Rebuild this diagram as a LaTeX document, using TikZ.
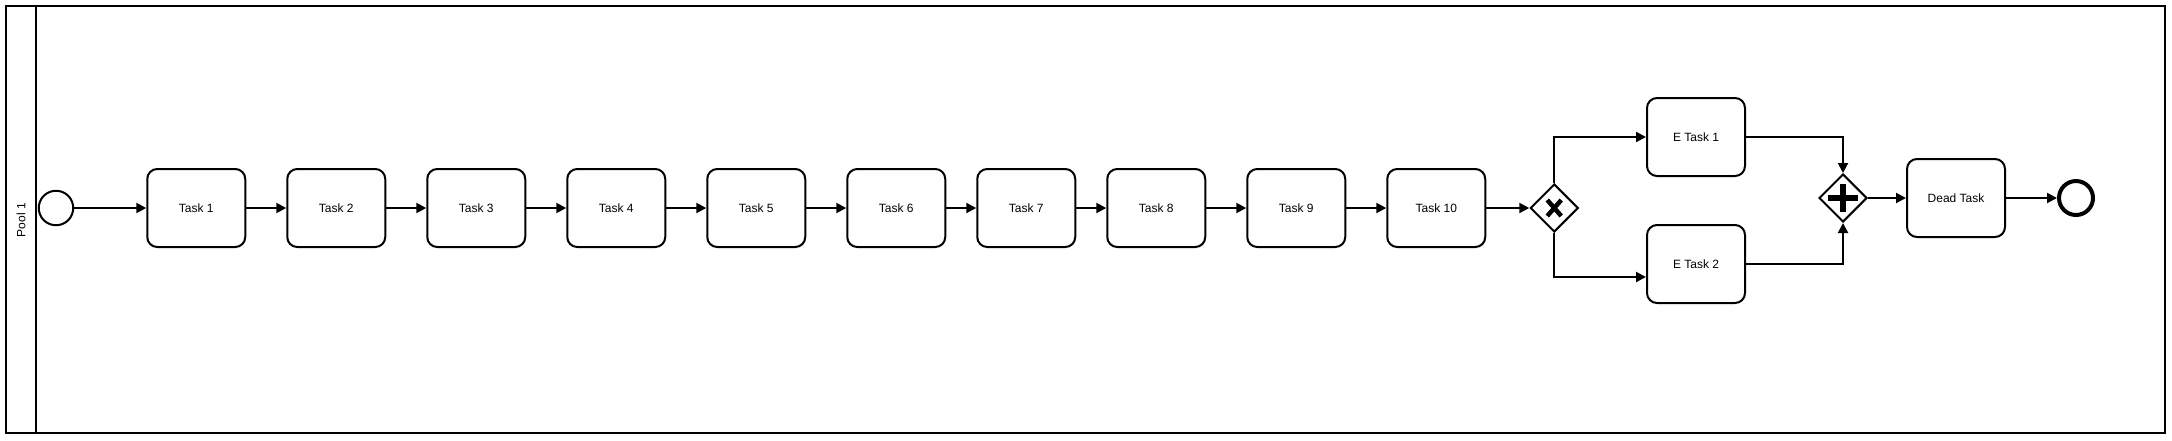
\documentclass[tikz,border=0pt]{standalone}
\usepackage{fontspec}
\setmainfont{Liberation Sans}
\usetikzlibrary{arrows.meta,positioning,shapes.geometric}

\begin{document}
\begin{tikzpicture}[
  x=1pt, y=-1pt,
  font=\fontsize{12}{14}\selectfont,
  line width=2pt,
  taskbox/.style={draw, rounded corners=10pt, align=center, minimum width=98pt, minimum height=78pt, inner sep=0pt},
  startevent/.style={draw, circle, minimum size=34.5pt, inner sep=0pt},
  endevent/.style={draw, circle, line width=4pt, minimum size=34pt, inner sep=0pt},
  gateway/.style={draw, diamond, aspect=1, minimum size=48pt, inner sep=0pt},
  xorgate/.style={gateway, path picture={
    \draw[line width=4.5pt] ([shift={(-7,-8)}]path picture bounding box.center) -- ([shift={(7,8)}]path picture bounding box.center)
      ([shift={(-7,8)}]path picture bounding box.center) -- ([shift={(7,-8)}]path picture bounding box.center);}},
  andgate/.style={gateway, path picture={
    \draw[line width=6.5pt] ([shift={(-15,0)}]path picture bounding box.center) -- ([shift={(15,0)}]path picture bounding box.center)
      ([shift={(0,-14)}]path picture bounding box.center) -- ([shift={(0,14)}]path picture bounding box.center);}},
  arrow/.style={-{Triangle[length=10pt, width=10pt]}}
]
\useasboundingbox (0,0) rectangle (2172,440);
\draw (6,6) rectangle (2165,433);
\draw (36,6) -- (36,433);
\node[rotate=90] (pooltitle) at (21,220) {Pool 1};
\node[startevent] (start) at (56,208) {};
\node[taskbox, right=72pt of start] (task1) {Task 1};
\node[taskbox, right=40pt of task1] (task2) {Task 2};
\node[taskbox, right=40pt of task2] (task3) {Task 3};
\node[taskbox, right=40pt of task3] (task4) {Task 4};
\node[taskbox, right=40pt of task4] (task5) {Task 5};
\node[taskbox, right=40pt of task5] (task6) {Task 6};
\node[taskbox, right=30pt of task6] (task7) {Task 7};
\node[taskbox, right=30pt of task7] (task8) {Task 8};
\node[taskbox, right=40pt of task8] (task9) {Task 9};
\node[taskbox, right=40pt of task9] (task10) {Task 10};
\node[xorgate, right=43pt of task10] (xorsplit) {};
\node[taskbox] (etask1) at (1696,137) {E Task 1};
\node[taskbox] (etask2) at (1696,264) {E Task 2};
\node[andgate] (andjoin) at (1843,198) {};
\node[taskbox, right=38pt of andjoin] (dead) {Dead Task};
\node[endevent, right=51pt of dead] (finish) {};
\draw[arrow] (start) -- (task1);
\draw[arrow] (task1) -- (task2);
\draw[arrow] (task2) -- (task3);
\draw[arrow] (task3) -- (task4);
\draw[arrow] (task4) -- (task5);
\draw[arrow] (task5) -- (task6);
\draw[arrow] (task6) -- (task7);
\draw[arrow] (task7) -- (task8);
\draw[arrow] (task8) -- (task9);
\draw[arrow] (task9) -- (task10);
\draw[arrow] (task10) -- (xorsplit);
\draw[arrow] (xorsplit.north) |- (etask1.west);
\draw[arrow] (xorsplit.south) |- ([yshift=-13pt]etask2.west);
\draw[arrow] (etask1.east) -| (andjoin.north);
\draw[arrow] (etask2.east) -| (andjoin.south);
\draw[arrow] (andjoin) -- (dead);
\draw[arrow] (dead) -- (finish);
\end{tikzpicture}
\end{document}
